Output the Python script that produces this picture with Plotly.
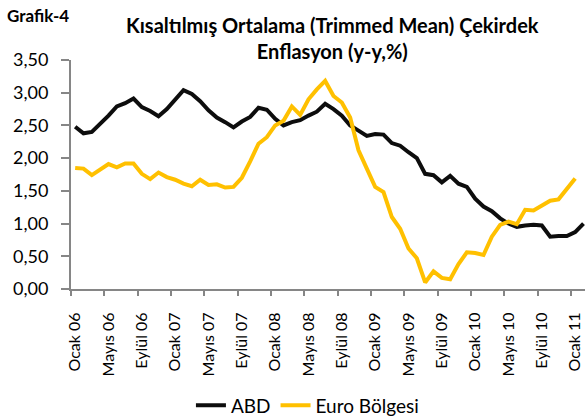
import plotly.graph_objects as go

month_names = ["Ocak", "Şubat", "Mart", "Nisan", "Mayıs", "Haziran",
               "Temmuz", "Ağustos", "Eylül", "Ekim", "Kasım", "Aralık"]
years = ["06", "07", "08", "09", "10", "11"]
months = [f"{m} {y}" for y in years for m in month_names][:62]

tick_labels = ["Ocak 06", "Mayıs 06", "Eylül 06", "Ocak 07", "Mayıs 07", "Eylül 07",
               "Ocak 08", "Mayıs 08", "Eylül 08", "Ocak 09", "Mayıs 09", "Eylül 09",
               "Ocak 10", "Mayıs 10", "Eylül 10", "Ocak 11"]

abd = [2.48, 2.38, 2.40, 2.52, 2.65, 2.79, 2.84, 2.91, 2.78, 2.72, 2.64, 2.75,
       2.90, 3.04, 2.98, 2.87, 2.73, 2.62, 2.55, 2.47, 2.56, 2.63, 2.77, 2.74,
       2.60, 2.50, 2.55, 2.58, 2.65, 2.71, 2.83, 2.75, 2.65, 2.50, 2.42, 2.34,
       2.37, 2.36, 2.23, 2.19, 2.09, 2.00, 1.76, 1.74, 1.63, 1.73, 1.61, 1.56,
       1.38, 1.26, 1.19, 1.08, 1.00, 0.95, 0.97, 0.98, 0.97, 0.80, 0.81, 0.81,
       0.87, 1.00]

euro = [1.85, 1.84, 1.74, 1.82, 1.91, 1.86, 1.92, 1.92, 1.76, 1.68, 1.78, 1.71,
        1.67, 1.61, 1.57, 1.67, 1.59, 1.60, 1.55, 1.56, 1.70, 1.95, 2.22, 2.32,
        2.50, 2.57, 2.79, 2.66, 2.90, 3.05, 3.18, 2.95, 2.85, 2.62, 2.12, 1.84,
        1.56, 1.48, 1.10, 0.92, 0.62, 0.47, 0.10, 0.27, 0.17, 0.15, 0.38, 0.56,
        0.55, 0.52, 0.80, 0.98, 1.03, 0.99, 1.21, 1.20, 1.28, 1.35, 1.37, 1.53,
        1.69]

x_abd = list(range(len(abd)))
x_euro = list(range(len(euro)))
tickvals = [months.index(t) for t in tick_labels]
boundary_ticks = [v - 0.5 for v in tickvals]

FONT = "Lato, 'Liberation Sans', sans-serif"
AXIS_COLOR = "#868686"

fig = go.Figure()
fig.add_trace(go.Scatter(x=x_abd, y=abd, mode="lines", name="ABD",
                         line=dict(color="#0d0d0d", width=4)))
fig.add_trace(go.Scatter(x=x_euro, y=euro, mode="lines", name="Euro Bölgesi",
                         line=dict(color="#FFC000", width=4)))
# invisible trace to activate the boundary-tick axis
fig.add_trace(go.Scatter(x=[0], y=[0], xaxis="x2", mode="markers",
                         marker=dict(opacity=0), showlegend=False, hoverinfo="skip"))

x_range = [-0.5, 61.18]
fig.update_layout(
    width=585, height=417,
    margin=dict(l=71, r=0, t=60, b=128, autoexpand=False),
    paper_bgcolor="white", plot_bgcolor="white",
    separators=",.",
    font=dict(family=FONT, color="black"),
    showlegend=True,
    legend=dict(orientation="h", xanchor="center", x=0.46, yanchor="top", y=-0.425,
                font=dict(size=19, family=FONT), bgcolor="rgba(0,0,0,0)"),
    title=dict(text="<b>Kısaltılmış Ortalama (Trimmed Mean) Çekirdek<br>Enflasyon (y-y,%)</b>",
               x=0.568, xanchor="center", xref="container",
               y=0.92, yanchor="middle", yref="container",
               font=dict(size=20, family=FONT, color="black")),
    xaxis=dict(range=x_range, tickmode="array", tickvals=tickvals, ticktext=tick_labels,
               tickangle=-90, ticks="", showgrid=False, zeroline=False, automargin=False,
               showline=True, linecolor=AXIS_COLOR, linewidth=2, ticklabelstandoff=15,
               tickfont=dict(size=16, family=FONT, color="black")),
    xaxis2=dict(range=x_range, overlaying="x", side="bottom", anchor="y",
                tickmode="array", tickvals=boundary_ticks, showticklabels=False,
                ticks="outside", ticklen=6, tickwidth=2, tickcolor=AXIS_COLOR,
                showgrid=False, zeroline=False, showline=False, automargin=False),
    yaxis=dict(range=[0, 3.5], dtick=0.5, tick0=0, tickformat=".2f",
               ticks="outside", ticklen=8, tickwidth=2, tickcolor=AXIS_COLOR,
               showgrid=False, zeroline=False, showline=True, linecolor=AXIS_COLOR,
               linewidth=2, ticklabelstandoff=9, automargin=False,
               tickfont=dict(size=18, family=FONT, color="black")),
    annotations=[dict(text="<b>Grafik-4</b>", xref="paper", yref="paper",
                      x=-0.128, xanchor="left", y=1.196, yanchor="middle",
                      showarrow=False, font=dict(size=17, family=FONT, color="black"))],
)

fig.write_html("out.html", config={"displayModeBar": False},
               post_script="document.body.style.margin='0';document.body.style.overflow='hidden';")
